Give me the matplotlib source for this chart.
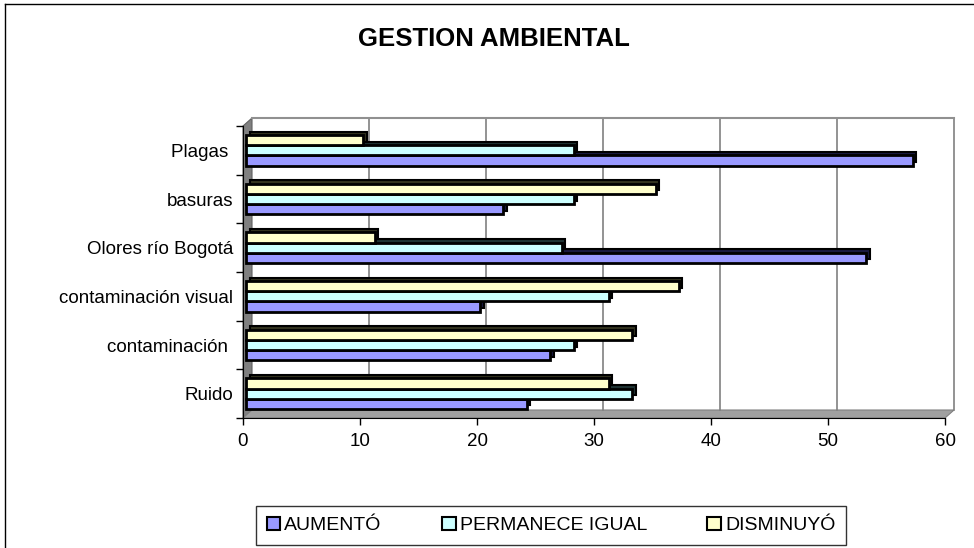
import matplotlib
matplotlib.use('Agg')
import numpy as np
import matplotlib.pyplot as plt
from matplotlib.patches import Polygon, Patch
from matplotlib.lines import Line2D
from matplotlib.transforms import ScaledTranslation, IdentityTransform

plt.rcParams['font.family'] = ['Liberation Sans', 'DejaVu Sans']

# datos de la encuesta
categorias = ['Ruido', 'contaminación ', 'contaminación visual',
              'Olores río Bogotá', 'basuras', 'Plagas ']
aumento = [24, 26, 20, 53, 22, 57]
permanece = [33, 28, 31, 27, 28, 28]
disminuyo = [31, 33, 37, 11, 35, 10]
series = ['AUMENTÓ', 'PERMANECE IGUAL', 'DISMINUYÓ']
colores = ['#9999FF', '#CCFFFF', '#FFFFCC']
sombras = ['#1a1a40', '#1f3333', '#33331f']
xticks = [0, 10, 20, 30, 40, 50, 60]

W, H = 974, 548
fig = plt.figure(figsize=(W / 100, H / 100), dpi=100)
ax = fig.add_axes([243 / W, 1 - 418 / H, (945 - 243) / W, (418 - 126) / H])
ax.set_xlim(0, 60)
ax.set_ylim(-0.5, len(categorias) - 0.5)
ax.set_facecolor('none')
for s in ['top', 'right']:
    ax.spines[s].set_visible(False)
ax.spines['left'].set_zorder(10)
ax.spines['bottom'].set_zorder(10)

# profundidad del fondo (efecto 3D)
fondo = ScaledTranslation(0.09, 0.08, fig.dpi_scale_trans)
t_fondo = ax.transData + fondo


def px(xa, ya, dx=0, dy=0):
    x, y = ax.transAxes.transform((xa, ya))
    return (x + dx, y + dy)


# pared izquierda y piso en gris
pared = Polygon([px(0, 0), px(0, 1), px(0, 1, 9, 8), px(0, 0, 9, 8)],
                closed=True, facecolor='#808080', edgecolor='#606060', lw=0.8,
                transform=IdentityTransform(), zorder=0.5, clip_on=False)
piso = Polygon([px(0, 0), px(1, 0), px(1, 0, 9, 8), px(0, 0, 9, 8)],
               closed=True, facecolor='#a0a0a0', edgecolor='#808080', lw=0.8,
               transform=IdentityTransform(), zorder=0.5, clip_on=False)
ax.add_patch(pared)
ax.add_patch(piso)

# cuadrícula sobre la pared del fondo
for xv in xticks[1:]:
    ax.plot([xv, xv], [-0.5, len(categorias) - 0.5], color='#808080', lw=1.2,
            transform=t_fondo, zorder=1, clip_on=False)
ax.plot([0, 60], [len(categorias) - 0.5] * 2, color='#909090', lw=1.5,
        transform=t_fondo, zorder=1, clip_on=False)

# barras con profundidad
y = np.arange(len(categorias))
h = 0.21
frente = ScaledTranslation(0.03, 0.0, fig.dpi_scale_trans)
prof = ScaledTranslation(0.065, 0.035, fig.dpi_scale_trans)
for i, (vals, c, sc) in enumerate(zip([aumento, permanece, disminuyo], colores, sombras)):
    pos = y + (i - 1) * h
    ax.barh(pos, vals, height=h, color=sc, edgecolor='black', lw=1.5,
            transform=ax.transData + prof, zorder=3 + 2 * i, clip_on=False)
    ax.barh(pos, vals, height=h, color=c, edgecolor='black', lw=2,
            transform=ax.transData + frente,
            zorder=4 + 2 * i, clip_on=False, label=series[i])

ax.set_yticks(y)
ax.set_yticklabels(categorias, fontsize=13.5)
ax.set_yticks(np.arange(-0.5, len(categorias)), minor=True)
ax.tick_params(axis='y', which='major', length=0, pad=7)
ax.tick_params(axis='y', which='minor', length=5, width=1, direction='out')
ax.set_xticks(xticks)
ax.set_xticklabels([str(v) for v in xticks], fontsize=13.5)
ax.tick_params(axis='x', length=5, width=1, direction='out', pad=6)

fig.text(494 / W, 1 - 39 / H, 'GESTION AMBIENTAL', ha='center', va='center',
         fontsize=18.5, fontweight='bold')

# leyenda
handles = [Patch(facecolor=c, edgecolor='black', lw=1.5) for c in colores]
leg = fig.legend(handles, series, loc='lower left', ncol=3, mode='expand',
                 bbox_to_anchor=(256 / W, 3 / H, 590 / W, 40 / H),
                 borderaxespad=0, fontsize=14, frameon=True, fancybox=False,
                 handlelength=0.7, handleheight=0.7, handletextpad=0.2,
                 borderpad=0.55)
leg.get_frame().set_edgecolor('black')
leg.get_frame().set_linewidth(1)

# marco exterior (recortado a la derecha y abajo)
fig.add_artist(Line2D([4.5 / W, 1], [1 - 3.5 / H] * 2, color='black', lw=1,
                      transform=fig.transFigure))
fig.add_artist(Line2D([4.5 / W] * 2, [0, 1 - 3.5 / H], color='black', lw=1,
                      transform=fig.transFigure))

fig.savefig('out.png', dpi=100)
